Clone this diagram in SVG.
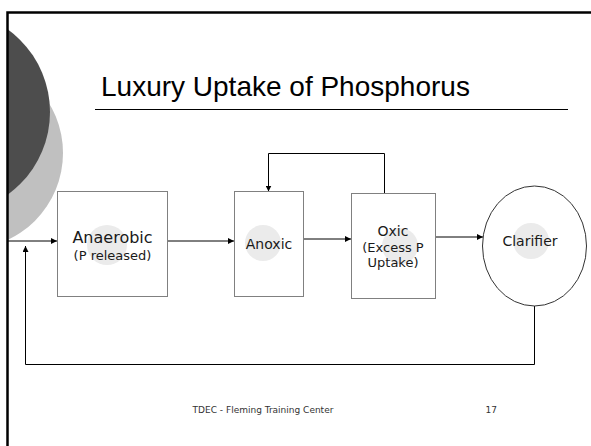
<svg xmlns="http://www.w3.org/2000/svg" width="591" height="446" viewBox="0 0 591 446">
  <style>
    .box { fill: #ffffff; stroke: #808080; stroke-width: 1; }
    .ghost { fill: #ebebeb; }
    .lbl { font-family: "DejaVu Sans", Verdana, sans-serif; fill: #1a1a1a; text-anchor: middle; }
    .flow { fill: none; stroke: #000000; stroke-width: 1; }
    .title { font-family: "Liberation Sans", Arial, sans-serif; font-size: 28px; fill: #000000; }
    .foot { font-family: "DejaVu Sans", Verdana, sans-serif; font-size: 9px; fill: #333333; }
  </style>
  <defs>
    <marker id="arrow" viewBox="0 0 6 6" refX="6" refY="3" markerWidth="6" markerHeight="6" markerUnits="userSpaceOnUse" orient="auto">
      <path d="M0,0 L6,3 L0,6 Z" fill="#000000"/>
    </marker>
    <clipPath id="slide">
      <rect x="8" y="12" width="583" height="434"/>
    </clipPath>
  </defs>

  <rect width="591" height="446" fill="#ffffff"/>

  <!-- decorative discs at the left edge -->
  <g clip-path="url(#slide)">
    <circle cx="-33" cy="153" r="96" fill="#c0c0c0"/>
    <circle cx="-52" cy="112" r="102" fill="#4d4d4d"/>
  </g>

  <!-- slide frame -->
  <path d="M7.5,446 V12.5 H591" fill="none" stroke="#000000" stroke-width="2.5"/>

  <!-- title -->
  <text class="title" x="101" y="96">Luxury Uptake of Phosphorus</text>
  <line x1="95" y1="109.5" x2="568" y2="109.5" stroke="#000000" stroke-width="1"/>

  <!-- connectors -->
  <g id="connectors">
    <line class="flow" x1="8" y1="241" x2="57" y2="241" marker-end="url(#arrow)"/>
    <line class="flow" x1="168" y1="241" x2="234" y2="241" marker-end="url(#arrow)"/>
    <line class="flow" x1="303" y1="239" x2="351" y2="239" marker-end="url(#arrow)"/>
    <line class="flow" x1="435" y1="237" x2="483" y2="237" marker-end="url(#arrow)"/>
    <polyline class="flow" points="384.5,193 384.5,153.5 268.5,153.5 268.5,191.5" marker-end="url(#arrow)"/>
    <polyline class="flow" points="534.5,306 534.5,364.5 25.5,364.5 25.5,246" stroke-width="1.3" marker-end="url(#arrow)"/>
  </g>

  <g id="anaerobic">
    <rect class="box" x="57.5" y="191.5" width="110" height="105"/>
    <circle class="ghost" cx="107" cy="245" r="20"/>
    <text class="lbl" x="112.5" y="243" font-size="16">Anaerobic</text>
    <text class="lbl" x="112.5" y="260" font-size="13">(P released)</text>
  </g>

  <g id="anoxic">
    <rect class="box" x="234.5" y="191.5" width="69" height="105"/>
    <circle class="ghost" cx="263" cy="243" r="18"/>
    <text class="lbl" x="269" y="249" font-size="14">Anoxic</text>
  </g>

  <g id="oxic">
    <rect class="box" x="351.5" y="193.5" width="84" height="105"/>
    <circle class="ghost" cx="400" cy="246" r="18"/>
    <text class="lbl" x="393" y="236" font-size="14">Oxic</text>
    <text class="lbl" x="393" y="252" font-size="13">(Excess P</text>
    <text class="lbl" x="393" y="267" font-size="13">Uptake)</text>
  </g>

  <g id="clarifier">
    <ellipse cx="534.5" cy="246" rx="52" ry="60" fill="#ffffff" stroke="#333333" stroke-width="1"/>
    <circle class="ghost" cx="531" cy="241" r="18"/>
    <text class="lbl" x="530" y="246" font-size="14">Clarifier</text>
  </g>

  <!-- footer -->
  <text class="foot" x="263" y="413" text-anchor="middle">TDEC - Fleming Training Center</text>
  <text class="foot" x="497" y="413" text-anchor="end">17</text>
</svg>
